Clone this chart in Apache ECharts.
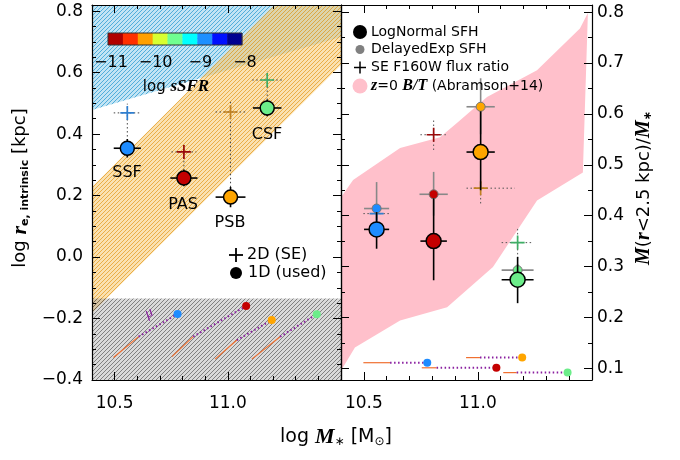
<!DOCTYPE html>
<html>
<head>
<meta charset="utf-8">
<script src="https://cdn.jsdelivr.net/npm/echarts@6/dist/echarts.min.js"></script>
<style>
  html, body { margin: 0; padding: 0; background: #fff; }
  #chart { width: 680px; height: 460px; }
</style>
</head>
<body>
<div id="chart"></div>
<script>
// galaxy classes (shared by both panels)
const classNames = ['SSF', 'PAS', 'PSB', 'CSF'];
const classColors = ['#1e8cff', '#c40000', '#ffa500', '#6ced8a'];
const plusColors = ['#2f7fd0', '#9a0a0a', '#c08020', '#3fae66'];
const logMass = [10.556, 10.806, 11.012, 11.174];

// left panel: sizes
const size1D = [0.354, 0.257, 0.195, 0.485];
const size1DErr = [0.03, 0.027, 0.033, 0.027];
const mass1DErr = [0.06, 0.06, 0.066, 0.063];
const size2D = [0.469, 0.342, 0.472, 0.576];
const size2DErrUp = [0.03, 0.027, 0.033, 0.027];
const size2DErrDown = [0.09, 0.06, 0.245, 0.065];
const mass2DErr = [0.06, 0.055, 0.066, 0.066];

// left panel shaded relations
const sfBandX = [10.4, 11.5, 11.5, 10.4];
const sfBandY = [0.478, 0.716, 0.82, 0.82];
const qBandX = [10.4, 11.5, 11.5, 10.4];
const qBandY = [-0.182, 0.625, 1.035, 0.228];
const lowResX = [10.4, 11.5, 11.5, 10.4];
const lowResY = [-0.4, -0.4, -0.135, -0.135];

// evolution tracks (now -> mid -> start)
const trackMassNow = [10.778, 11.081, 11.194, 11.393];
const trackMassMid = [10.606, 10.847, 11.04, 11.231];
const trackMassStart = [10.495, 10.753, 10.944, 11.106];
const trackSizeNow = [-0.185, -0.159, -0.205, -0.186];
const trackSizeMid = [-0.259, -0.259, -0.27, -0.259];
const trackSizeStart = [-0.327, -0.324, -0.332, -0.332];
const trackFracMassMid = [10.615, 10.819, 11.009, 11.17];
const trackFracMassStart = [10.498, 10.754, 10.948, 11.111];
const trackFrac = [0.111, 0.101, 0.121, 0.0915];

// right panel: central mass fraction
const fracLN = [0.373, 0.350, 0.525, 0.274];
const fracLNLo = [0.335, 0.273, 0.45, 0.228];
const fracLNHi = [0.407, 0.434, 0.605, 0.319];
const massLNErr = [0.055, 0.058, 0.062, 0.07];
const fracDE = [0.414, 0.442, 0.614, 0.293];
const fracDELo = [0.37, 0.40, 0.56, 0.28];
const fracDEHi = [0.466, 0.486, 0.670, 0.305];
const massDEErr = [0.055, 0.062, 0.062, 0.07];
const fracSE = [0.404, 0.559, 0.454, 0.347];
const fracSELo = [0.395, 0.529, 0.424, 0.316];
const fracSEHi = [0.413, 0.591, 0.47, 0.378];
const massSELo = [0.058, 0.058, 0.062, 0.07];
const massSEHi = [0.058, 0.058, 0.15, 0.068];

// z=0 B/T band (Abramson+14)
const btX = [10.4, 10.453, 10.659, 10.834, 10.908, 11.04, 11.259, 11.447, 11.5,
             11.482, 11.46, 11.259, 11.066, 10.865, 10.659, 10.461, 10.409, 10.4];
const btY = [0.436, 0.470, 0.533, 0.554, 0.582, 0.633, 0.686, 0.768, 0.814,
             0.798, 0.485, 0.430, 0.299, 0.220, 0.194, 0.141, 0.102, 0.092];

// sSFR colour bar
const ssfrTicks = [-11, -10, -9, -8];
const ssfrColors = ['#b00000', '#ff3000', '#ffa000', '#d8ff30', '#70ff90',
                    '#00ffff', '#1e90ff', '#0010ff', '#000090'];

const FONT = 'DejaVu Sans';
const SERIF = 'Liberation Serif';

function hatch(lineColor, baseColor) {
  const c = document.createElement('canvas');
  c.width = 4; c.height = 4;
  const ctx = c.getContext('2d');
  ctx.fillStyle = baseColor; ctx.fillRect(0, 0, 4, 4);
  ctx.fillStyle = lineColor;
  for (let i = 0; i < 4; i++) ctx.fillRect(3 - i, i, 1, 1);
  return { image: c, repeat: 'repeat' };
}

function polygonSeries(xi, yi, xs, ys, fill, z) {
  return {
    type: 'custom', xAxisIndex: xi, yAxisIndex: yi, clip: true, z: z, silent: true,
    data: xs.map((x, i) => [x, ys[i]]),
    renderItem(params, api) {
      if (params.dataIndex !== 0) return null;
      const pts = xs.map((x, i) => api.coord([x, ys[i]]));
      return { type: 'polygon', shape: { points: pts }, style: { fill: fill, stroke: null } };
    }
  };
}

// data item: [x, y, xlo, xhi, ylo, yhi]
function errorSeries(xi, yi, rows, color, width, dash, z) {
  return {
    type: 'custom', xAxisIndex: xi, yAxisIndex: yi, z: z, silent: true,
    data: rows,
    renderItem(params, api) {
      const c = api.coord([api.value(0), api.value(1)]);
      const l = api.coord([api.value(2), api.value(1)]);
      const r = api.coord([api.value(3), api.value(1)]);
      const b = api.coord([api.value(0), api.value(4)]);
      const t = api.coord([api.value(0), api.value(5)]);
      const st = { stroke: color, lineWidth: width, lineDash: dash };
      return { type: 'group', children: [
        { type: 'line', shape: { x1: l[0], y1: c[1], x2: r[0], y2: c[1] }, style: st },
        { type: 'line', shape: { x1: c[0], y1: b[1], x2: c[0], y2: t[1] }, style: st }
      ] };
    }
  };
}

// data item: [xNow, yNow, xMid, yMid, xStart, yStart]
function trackSeries(xi, yi, rows, z) {
  return {
    type: 'custom', xAxisIndex: xi, yAxisIndex: yi, z: z, silent: true,
    data: rows,
    renderItem(params, api) {
      const n = api.coord([api.value(0), api.value(1)]);
      const m = api.coord([api.value(2), api.value(3)]);
      const s = api.coord([api.value(4), api.value(5)]);
      return { type: 'group', children: [
        { type: 'line', shape: { x1: s[0], y1: s[1], x2: m[0], y2: m[1] },
          style: { stroke: '#f07030', lineWidth: 1.2 } },
        { type: 'line', shape: { x1: m[0], y1: m[1], x2: n[0], y2: n[1] },
          style: { stroke: '#8a1fa0', lineWidth: 2, lineDash: [1.5, 2.5] } }
      ] };
    }
  };
}

const PLUS = 'path://M4.4,0H5.6V4.4H10V5.6H5.6V10H4.4V5.6H0V4.4H4.4Z';

function pointSeries(xi, yi, xs, ys, opts) {
  return {
    type: 'scatter', xAxisIndex: xi, yAxisIndex: yi, z: opts.z, silent: true,
    symbol: opts.symbol || 'circle', symbolSize: opts.size,
    data: xs.map((x, i) => ({
      value: [x, ys[i]],
      itemStyle: {
        color: (opts.colors || classColors)[i],
        borderColor: opts.border || null,
        borderWidth: opts.border ? opts.borderWidth : 0,
        opacity: 1
      }
    }))
  };
}

const blueFill = hatch('rgba(60,165,215,0.85)', 'rgba(120,195,230,0.45)');
const orangeFill = hatch('rgba(232,165,50,0.85)', 'rgba(245,195,100,0.5)');
const grayFill = hatch('rgba(70,70,70,0.6)', 'rgba(150,150,150,0.35)');

const idx = [0, 1, 2, 3];

const series = [
  // ---- left panel
  polygonSeries(0, 0, sfBandX, sfBandY, blueFill, 1),
  polygonSeries(0, 0, qBandX, qBandY, orangeFill, 1),
  polygonSeries(0, 0, lowResX, lowResY, grayFill, 1),
  trackSeries(0, 0, idx.map(i => [trackMassNow[i], trackSizeNow[i], trackMassMid[i],
    trackSizeMid[i], trackMassStart[i], trackSizeStart[i]]), 3),
  pointSeries(0, 0, trackMassNow, trackSizeNow, { size: 8, z: 4 }),
  errorSeries(0, 0, idx.map(i => [logMass[i], size2D[i], logMass[i] - mass2DErr[i],
    logMass[i] + mass2DErr[i], size2D[i] - size2DErrDown[i], size2D[i] + size2DErrUp[i]]),
    '#444', 1, [1.5, 2.5], 3),
  pointSeries(0, 0, logMass, size2D, { symbol: PLUS, size: 14, colors: plusColors, z: 4 }),
  errorSeries(0, 0, idx.map(i => [logMass[i], size1D[i], logMass[i] - mass1DErr[i],
    logMass[i] + mass1DErr[i], size1D[i] - size1DErr[i], size1D[i] + size1DErr[i]]),
    '#000', 1.6, null, 5),
  pointSeries(0, 0, logMass, size1D, { size: 14, border: '#000', borderWidth: 1.5, z: 6 }),

  // ---- right panel
  polygonSeries(2, 3, btX, btY, '#ffc0cb', 1),
  trackSeries(2, 3, idx.map(i => [trackMassNow[i], trackFrac[i], trackFracMassMid[i],
    trackFrac[i], trackFracMassStart[i], trackFrac[i]]), 3),
  pointSeries(2, 3, trackMassNow, trackFrac, { size: 8, z: 4 }),
  errorSeries(2, 3, idx.map(i => [logMass[i], fracSE[i], logMass[i] - massSELo[i],
    logMass[i] + massSEHi[i], fracSELo[i], fracSEHi[i]]), '#555', 1, [1.5, 2.5], 3),
  pointSeries(2, 3, logMass, fracSE, { symbol: PLUS, size: 14, colors: plusColors, z: 4 }),
  errorSeries(2, 3, idx.map(i => [logMass[i], fracDE[i], logMass[i] - massDEErr[i],
    logMass[i] + massDEErr[i], fracDELo[i], fracDEHi[i]]), '#888', 1.6, null, 4),
  pointSeries(2, 3, logMass, fracDE, { size: 9, border: '#777', borderWidth: 1, z: 5 }),
  errorSeries(2, 3, idx.map(i => [logMass[i], fracLN[i], logMass[i] - massLNErr[i],
    logMass[i] + massLNErr[i], fracLNLo[i], fracLNHi[i]]), '#000', 1.6, null, 6),
  pointSeries(2, 3, logMass, fracLN, { size: 15, border: '#000', borderWidth: 1.5, z: 7 })
];

const axisLine = { show: true, onZero: false, lineStyle: { color: '#000', width: 1.2 } };
const labelStyle = { color: '#000', fontFamily: FONT, fontSize: 17 };
const minus = v => v.toFixed(1).replace('-', '\u2212');

function xAxis(grid, pos, labels) {
  return {
    type: 'value', gridIndex: grid, position: pos, min: 10.4, max: 11.5, splitNumber: 2, z: 10,
    axisLine: axisLine, splitLine: { show: false },
    axisTick: { show: true, inside: true, length: 8, lineStyle: { color: '#000', width: 1 } },
    minorTick: { show: true, splitNumber: 5, length: 4, lineStyle: { color: '#000', width: 1 } },
    axisLabel: labels ? Object.assign({ show: true, margin: 15, showMinLabel: false, showMaxLabel: false,
      formatter: v => v.toFixed(1) }, labelStyle) : { show: false }
  };
}

function yLeftAxis(pos, labels) {
  return {
    type: 'value', gridIndex: 0, position: pos, min: -0.4, max: 0.82, interval: 0.2, z: 10,
    axisLine: axisLine, splitLine: { show: false },
    axisTick: { show: true, inside: true, length: 8, lineStyle: { color: '#000', width: 1 } },
    minorTick: { show: true, splitNumber: 4, length: 4, lineStyle: { color: '#000', width: 1 } },
    axisLabel: labels ? Object.assign({ show: true, margin: 9, showMaxLabel: false,
      formatter: minus }, labelStyle) : { show: false }
  };
}

function yRightAxis(pos, labels) {
  return {
    type: 'value', gridIndex: 1, position: pos, min: 0.077, max: 0.814, splitNumber: 7, z: 10,
    axisLine: axisLine, splitLine: { show: false },
    axisTick: { show: true, inside: true, length: 8, lineStyle: { color: '#000', width: 1 } },
    minorTick: { show: true, splitNumber: 2, length: 4, lineStyle: { color: '#000', width: 1 } },
    axisLabel: labels ? Object.assign({ show: true, margin: 5, showMinLabel: false, showMaxLabel: false,
      formatter: v => v.toFixed(1) }, labelStyle) : { show: false }
  };
}

// colour bar + annotations
const cbLeft = 108, cbRight = 242, cbTop = 33, cbH = 12;
const cbW = (cbRight - cbLeft) / ssfrColors.length;
const graphics = [];
ssfrColors.forEach((c, i) => graphics.push({
  type: 'rect', z: 20, shape: { x: cbLeft + i * cbW, y: cbTop, width: cbW + 0.3, height: cbH },
  style: { fill: c }
}));
graphics.push({ type: 'rect', z: 21, shape: { x: cbLeft, y: cbTop, width: cbRight - cbLeft, height: cbH },
  style: { fill: null, stroke: '#333', lineWidth: 1 } });
ssfrTicks.forEach(t => graphics.push({
  type: 'text', z: 21, x: cbLeft + (t - ssfrTicks[0]) / (ssfrTicks[3] - ssfrTicks[0]) * (cbRight - cbLeft) + 3,
  y: 63, style: { text: String(t).replace('-', '\u2212'), font: '16px "DejaVu Sans"', fill: '#000',
    align: 'center', verticalAlign: 'middle' }
}));
graphics.push({ type: 'text', z: 21, x: 176, y: 87, style: {
  text: '{a|log }{b|sSFR}', align: 'center', verticalAlign: 'middle',
  rich: { a: { fontFamily: FONT, fontSize: 15, fill: '#000' },
          b: { fontFamily: SERIF, fontSize: 17, fontWeight: 'bold', fontStyle: 'italic', fill: '#000' } }
} });

// class labels
const classLabelPos = [[127, 173], [183, 205], [230, 223], [267, 135]];
classNames.forEach((n, i) => graphics.push({
  type: 'text', z: 21, x: classLabelPos[i][0], y: classLabelPos[i][1],
  style: { text: n, font: '16px "DejaVu Sans"', fill: '#000', align: 'center', verticalAlign: 'middle' }
}));

// left legend
graphics.push(
  { type: 'line', z: 21, shape: { x1: 229, y1: 255, x2: 243, y2: 255 }, style: { stroke: '#000', lineWidth: 1.8 } },
  { type: 'line', z: 21, shape: { x1: 236, y1: 248, x2: 236, y2: 262 }, style: { stroke: '#000', lineWidth: 1.8 } },
  { type: 'text', z: 21, x: 247, y: 255, style: { text: '2D (SE)', font: '16px "DejaVu Sans"', fill: '#000', verticalAlign: 'middle' } },
  { type: 'circle', z: 21, shape: { cx: 236, cy: 273, r: 6 }, style: { fill: '#000' } },
  { type: 'text', z: 21, x: 248, y: 273, style: { text: '1D (used)', font: '16px "DejaVu Sans"', fill: '#000', verticalAlign: 'middle' } },
  { type: 'text', z: 21, x: 149, y: 313, rotation: 0.5, style: { text: '\u03bc', font: 'italic 15px "Liberation Serif"', fill: '#8a1fa0', align: 'center', verticalAlign: 'middle' } }
);

// right legend
graphics.push(
  { type: 'circle', z: 21, shape: { cx: 360, cy: 32, r: 7 }, style: { fill: '#000' } },
  { type: 'text', z: 21, x: 371, y: 32, style: { text: 'LogNormal SFH', font: '14px "DejaVu Sans"', fill: '#000', verticalAlign: 'middle' } },
  { type: 'circle', z: 21, shape: { cx: 360, cy: 49.5, r: 4.5 }, style: { fill: '#808080' } },
  { type: 'text', z: 21, x: 371, y: 49.5, style: { text: 'DelayedExp SFH', font: '14px "DejaVu Sans"', fill: '#000', verticalAlign: 'middle' } },
  { type: 'line', z: 21, shape: { x1: 354, y1: 67.5, x2: 366, y2: 67.5 }, style: { stroke: '#000', lineWidth: 1.5 } },
  { type: 'line', z: 21, shape: { x1: 360, y1: 61.5, x2: 360, y2: 73.5 }, style: { stroke: '#000', lineWidth: 1.5 } },
  { type: 'text', z: 21, x: 371, y: 67.5, style: { text: 'SE F160W flux ratio', font: '14px "DejaVu Sans"', fill: '#000', verticalAlign: 'middle' } },
  { type: 'circle', z: 21, shape: { cx: 360, cy: 86, r: 7.5 }, style: { fill: '#ffc0cb' } },
  { type: 'text', z: 21, x: 371, y: 86, style: {
    text: '{i|z}{a|=0 }{i|B/T}{a| (Abramson+14)}', verticalAlign: 'middle',
    rich: { a: { fontFamily: FONT, fontSize: 14, fill: '#000' },
            i: { fontFamily: SERIF, fontSize: 16, fontWeight: 'bold', fontStyle: 'italic', fill: '#000' } } } }
);

// axis titles
graphics.push(
  { type: 'text', z: 21, x: 336, y: 437, style: {
    text: '{a|log }{m|M}{s|\u2217}{a| [M}{s|\u2299}{a|]}', align: 'center', verticalAlign: 'middle',
    rich: { a: { fontFamily: FONT, fontSize: 19, fill: '#000' },
            m: { fontFamily: SERIF, fontSize: 22, fontWeight: 'bold', fontStyle: 'italic', fill: '#000' },
            s: { fontFamily: FONT, fontSize: 12, fill: '#000', verticalAlign: 'bottom', padding: [8, 0, 0, 0] } } } },
  { type: 'text', z: 21, x: 20, y: 188, rotation: Math.PI / 2, style: {
    text: '{a|log }{m|r}{s|e, intrinsic}{a| [kpc]}', align: 'center', verticalAlign: 'middle',
    rich: { a: { fontFamily: FONT, fontSize: 18, fill: '#000' },
            m: { fontFamily: SERIF, fontSize: 22, fontWeight: 'bold', fontStyle: 'italic', fill: '#000' },
            s: { fontFamily: FONT, fontSize: 11, fontWeight: 'bold', fill: '#000', verticalAlign: 'bottom', padding: [8, 0, 0, 0] } } } },
  { type: 'text', z: 21, x: 644, y: 188, rotation: Math.PI / 2, style: {
    text: '{m|M}{a|(}{m|r}{a|<2.5 kpc)/}{m|M}{s|\u2217}', align: 'center', verticalAlign: 'middle',
    rich: { a: { fontFamily: FONT, fontSize: 18, fill: '#000' },
            m: { fontFamily: SERIF, fontSize: 20, fontWeight: 'bold', fontStyle: 'italic', fill: '#000' },
            s: { fontFamily: FONT, fontSize: 11, fontWeight: 'bold', fill: '#000', verticalAlign: 'bottom', padding: [8, 0, 0, 0] } } } }
);

const chart = echarts.init(document.getElementById('chart'), null, { renderer: 'canvas' });
chart.setOption({
  animation: false,
  backgroundColor: '#fff',
  textStyle: { fontFamily: FONT },
  grid: [
    { left: 92, top: 5, width: 249, height: 375 },
    { left: 341, top: 5, width: 251, height: 375 }
  ],
  xAxis: [xAxis(0, 'bottom', true), xAxis(0, 'top', false), xAxis(1, 'bottom', true), xAxis(1, 'top', false)],
  yAxis: [yLeftAxis('left', true), yLeftAxis('right', false), yRightAxis('left', false), yRightAxis('right', true)],
  series: series,
  graphic: graphics
});
</script>
</body>
</html>
